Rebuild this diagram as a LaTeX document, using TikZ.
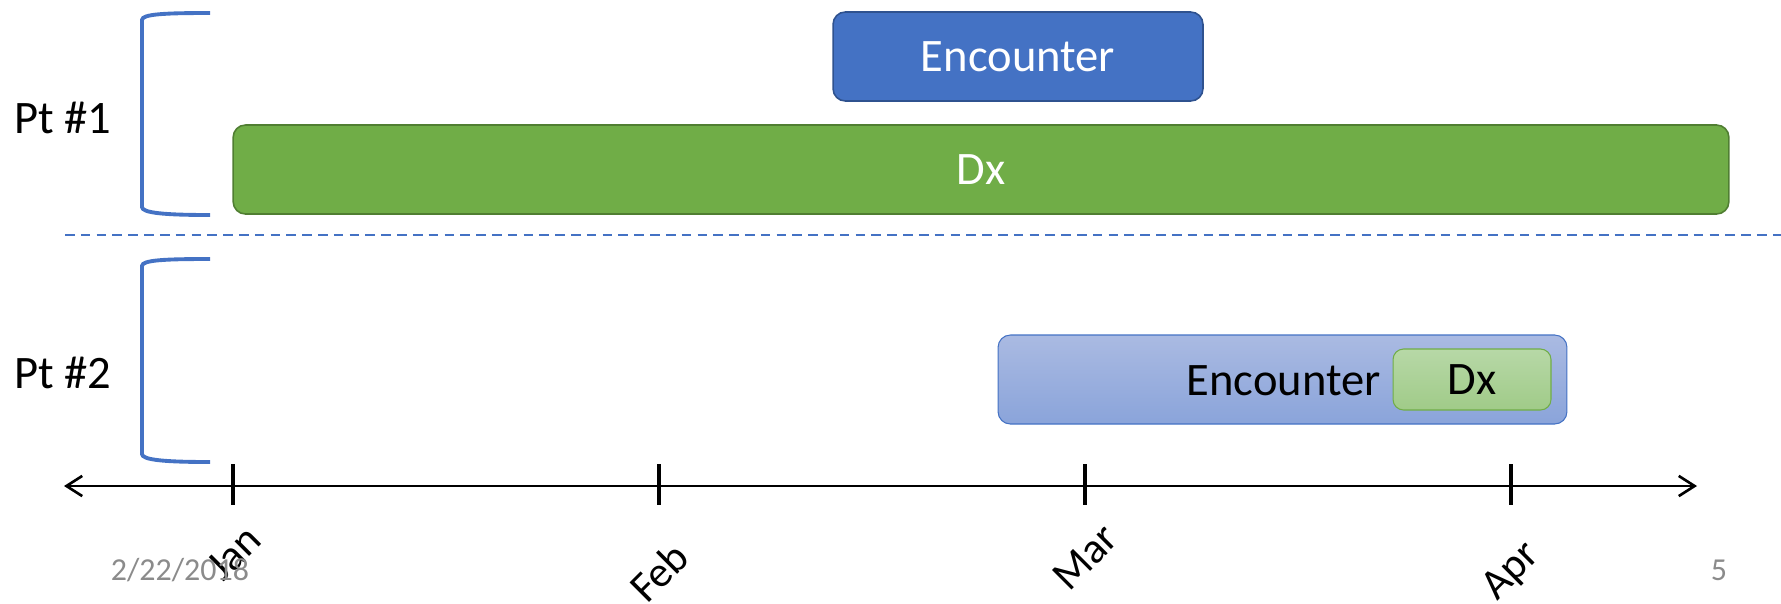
\documentclass[tikz,border=0pt]{standalone}
\usepackage{fontspec}
\setmainfont{Carlito}
\usetikzlibrary{arrows.meta,shadings}
\definecolor{accblue}{HTML}{4472C4}
\definecolor{accblueD}{HTML}{2F528F}
\definecolor{accgreen}{HTML}{70AD47}
\definecolor{accgreenD}{HTML}{507E32}
\definecolor{enctop}{HTML}{AABAE2}
\definecolor{encbot}{HTML}{8AA4DA}
\definecolor{dxtop}{HTML}{B7D8A7}
\definecolor{dxbot}{HTML}{A0CB88}
\definecolor{footgray}{HTML}{8B8B8B}
\tikzset{
  bigtext/.style={font=\fontsize{26.5}{30}\selectfont},
  bar/.style={rectangle, rounded corners=7pt, minimum height=1.78cm, inner sep=0pt, bigtext},
  bracketline/.style={draw=accblue, line width=2.2pt},
  month/.style={rotate=45, font=\fontsize{24.5}{28}\selectfont, inner sep=0pt},
  foot/.style={text=footgray, font=\fontsize{18.2}{21}\selectfont, inner sep=0pt},
  axisline/.style={line width=1.5pt, {Straight Barb[length=9pt,width=11.5pt]}-{Straight Barb[length=9pt,width=11.5pt]}},
}
\begin{document}
\begin{tikzpicture}[x=0.02cm, y=-0.02cm]
\useasboundingbox (0,0) rectangle (1781,603);
% labels
\node[bigtext, anchor=west, inner sep=0pt] (pt1) at (14,118) {Pt \#1};
\node[bigtext, anchor=west, inner sep=0pt] (pt2) at (14,373) {Pt \#2};
% brackets
\draw[bracketline] (210,13) .. controls (165,13) and (142,14) .. (142,20) -- (142,207) .. controls (142,213) and (165,215) .. (210,215);
\draw[bracketline] (210,259) .. controls (165,259) and (142,260) .. (142,266) -- (142,454) .. controls (142,460) and (165,462) .. (210,462);
% pt1 bars
\node[bar, fill=accblue, draw=accblueD, line width=0.9pt, text=white, minimum width=7.4cm] (enc1) at (1018,56.5) {Encounter};
\node[bar, fill=accgreen, draw=accgreenD, line width=0.9pt, text=white, minimum width=29.92cm] (dx1) at (981,169.5) {Dx};
% separator
\coordinate (sepL) at (65,235);
\coordinate (sepR) at (1781,235);
\draw[accblue, line width=1.1pt, dash pattern=on 5.5pt off 3.5pt] (sepL) -- (sepR);
% pt2 bars
\node[bar, top color=enctop, bottom color=encbot, draw=accblue, line width=0.6pt, minimum width=11.38cm] (enc2) at (1282.5,379.5) {};
\node[bigtext, anchor=east, inner sep=0pt] (enc2t) at (1381,381) {Encounter};
\node[rectangle, rounded corners=6pt, top color=dxtop, bottom color=dxbot, draw=accgreen, line width=0.6pt, minimum width=3.16cm, minimum height=1.22cm, inner sep=0pt, bigtext] (dx2) at (1472,379.5) {Dx};
% axis
\coordinate (axL) at (64,486);
\coordinate (axR) at (1697,486);
\draw[axisline] (axL) -- (axR);
\foreach \nm/\xx in {tJan/233, tFeb/659, tMar/1085, tApr/1511}{
  \coordinate (\nm a) at (\xx,464);
  \coordinate (\nm b) at (\xx,505);
  \draw[line width=2.1pt] (\nm a) -- (\nm b);
}
% months
\node[month] (jan) at (234,553) {Jan};
\node[month] (feb) at (659,572) {Feb};
\node[month] (mar) at (1085,557) {Mar};
\node[month] (apr) at (1512,572) {Apr};
% footer
\node[foot] (date) at (180,570) {2/22/2018};
\node[foot] (page) at (1719,570) {5};
\end{tikzpicture}
\end{document}
